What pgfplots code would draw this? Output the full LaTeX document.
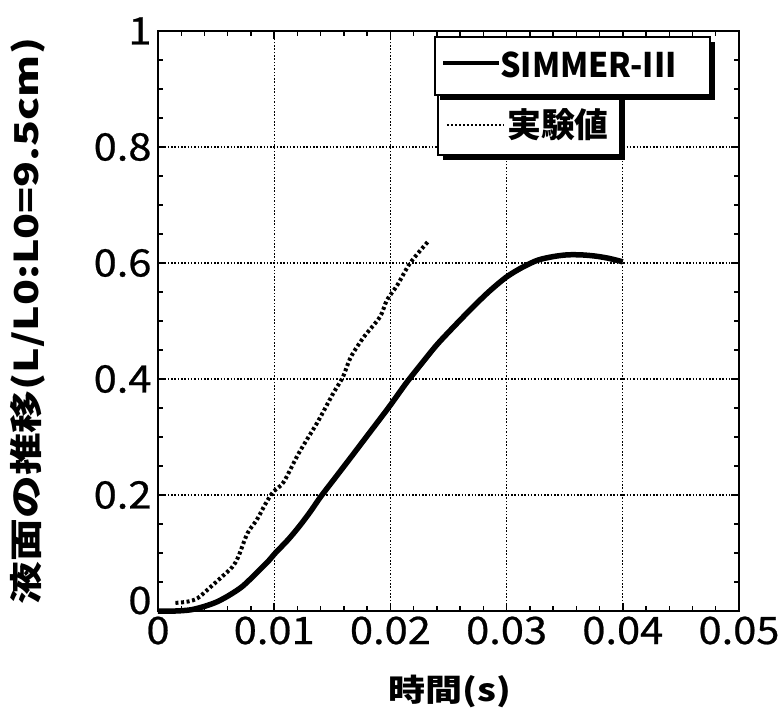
\documentclass[border=0pt]{standalone}
\usepackage{fontspec}
\setmainfont{Noto Sans CJK JP}
\newfontfamily\tickfont[FakeBold=0.6]{Noto Sans CJK JP}
\usepackage{pgfplots}
\usepackage{pgfplotstable}
\pgfplotsset{compat=1.18}
\newcommand\tl[1]{\scalebox{1.1}[1]{#1}}

\pgfplotstableread{
x y
0.0000 0.000
0.0015 0.000
0.0028 0.002
0.0040 0.008
0.0051 0.016
0.0062 0.028
0.0073 0.043
0.0085 0.066
0.0095 0.086
0.0101 0.100
0.0112 0.123
0.0122 0.147
0.0131 0.171
0.0140 0.197
0.0153 0.231
0.0166 0.265
0.0180 0.302
0.0191 0.331
0.0200 0.355
0.0214 0.394
0.0227 0.427
0.0240 0.459
0.0254 0.489
0.0270 0.522
0.0285 0.551
0.0300 0.576
0.0314 0.593
0.0327 0.605
0.0340 0.611
0.0352 0.614
0.0364 0.614
0.0376 0.612
0.0388 0.608
0.0400 0.602
}\simmer

\pgfplotstableread{
x y
0.0015 0.014
0.0025 0.016
0.0034 0.022
0.0045 0.041
0.0055 0.059
0.0064 0.076
0.0069 0.093
0.0077 0.134
0.0085 0.157
0.0092 0.183
0.0099 0.205
0.0108 0.222
0.0120 0.268
0.0128 0.295
0.0138 0.328
0.0151 0.376
0.0159 0.403
0.0166 0.438
0.0177 0.472
0.0191 0.507
0.0197 0.536
0.0206 0.562
0.0217 0.600
0.0232 0.636
}\expt

\begin{document}
\begin{tikzpicture}
\useasboundingbox (-158bp,-105bp) rectangle (624bp,611bp);
\begin{axis}[
  scale only axis,
  width=581bp, height=580bp,
  xmin=0, xmax=0.05, ymin=0, ymax=1,
  scaled x ticks=false, scaled y ticks=false,
  xtick={0,0.01,0.02,0.03,0.04,0.05},
  xticklabels={\tl{0},\tl{0.01},\tl{0.02},\tl{0.03},\tl{0.04},\tl{0.05}},
  ytick={0,0.2,0.4,0.6,0.8,1},
  yticklabels={\raisebox{-3bp}[0pt][0pt]{\tl{0}},\tl{0.2},\tl{0.4},\tl{0.6},\tl{0.8},\tl{1}},
  minor x tick num=4,
  minor y tick num=3,
  tick align=inside,
  xtick pos=both, ytick pos=both,
  major tick length=8bp,
  minor tick length=5bp,
  every tick/.style={black, line width=1.4bp},
  axis line style={line width=2bp},
  grid=major,
  major grid style={black, line width=1.1bp, dash pattern=on 1.5bp off 1.8bp},
  tick label style={font=\tickfont\fontsize{38}{44}\selectfont},
  xticklabel style={yshift=-2bp},
  yticklabel style={xshift=-3bp},
  clip=false,
]
\addplot[black, line width=5.5bp, smooth] table[x=x,y=y] {\simmer};
\addplot[black, line width=4bp, line cap=butt, dash pattern=on 3bp off 2.6bp, smooth] table[x=x,y=y] {\expt};
\end{axis}
% legend boxes
\fill[black] (285bp,451bp) rectangle (467bp,511bp);
\draw[line width=2bp, fill=white] (280bp,456bp) rectangle (462bp,516bp);
\fill[black] (282bp,511bp) rectangle (557bp,569bp);
\draw[line width=2bp, fill=white] (277bp,516bp) rectangle (552bp,574bp);
\draw[black, line width=3.5bp] (285bp,548bp) -- (341bp,548bp);
\node[anchor=west, inner sep=0pt, font=\bfseries\fontsize{34}{40}\selectfont] at (342bp,546bp) {\scalebox{0.95}[1]{SIMMER-III}};
\draw[black, line width=2.6bp, dash pattern=on 2.4bp off 1.6bp] (289bp,486bp) -- (346bp,486bp);
\node[anchor=west, inner sep=0pt, font=\bfseries\fontsize{34}{40}\selectfont] at (349bp,486bp) {実験値};
% axis labels
\node[font=\bfseries\fontsize{31}{36}\selectfont] at (292bp,-80bp) {\scalebox{1.2}[1]{時間(s)}};
\node[rotate=90, font=\bfseries\fontsize{33}{40}\selectfont] at (-130bp,290bp) {\scalebox{1.3}[1]{液面の推移(L/L0:L0=9.5cm)}};
\end{tikzpicture}
\end{document}
